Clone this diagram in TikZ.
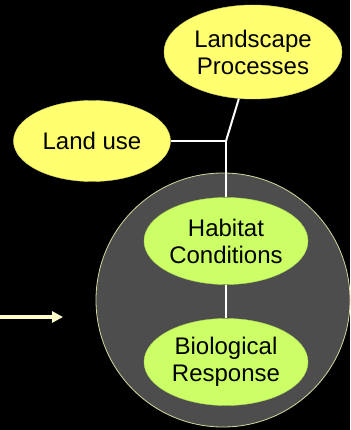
\documentclass[tikz,border=0pt]{standalone}
\usepackage{fontspec}
\setmainfont{Liberation Sans}
\usetikzlibrary{shapes.geometric, arrows.meta}
\definecolor{fondoGris}{HTML}{4D4D4D}
\definecolor{bordeCrema}{HTML}{D8D8A0}
\definecolor{elipAmarilla}{HTML}{FFFF70}
\definecolor{elipVerde}{HTML}{CCFF66}
\definecolor{flechaCrema}{HTML}{FFFFCC}

\begin{document}
\begin{tikzpicture}[
    x=1pt, y=-1pt,
    burbuja/.style={ellipse, inner sep=0pt, align=center, text=black,
        font=\fontsize{24}{27}\selectfont},
    amarilla/.style={burbuja, fill=elipAmarilla, draw=elipAmarilla!85!black, line width=0.4pt,
        minimum width=178pt, minimum height=94pt},
    verde/.style={burbuja, fill=elipVerde, draw=elipVerde!85!black, line width=0.4pt,
        minimum width=164pt, minimum height=87pt},
    enlace/.style={white, line width=2pt}
]

    % --- FONDO ---
    \fill[black] (0,0) rectangle (350,430);
    \useasboundingbox (0,0) rectangle (350,430);

    % --- CIRCULO GRANDE ---
    \draw[fill=fondoGris, draw=bordeCrema, line width=0.8pt] (223,300) circle (127);

    % --- NODOS ---
    \node[amarilla] (lp) at (253,52) {Landscape\\Processes};
    \node[amarilla, minimum width=157pt, minimum height=81pt] (lu) at (92,141) {Land use};
    \node[verde] (hc) at (226,241) {Habitat\\Conditions};
    \node[verde] (br) at (226,362) {Biological\\Response};
    \coordinate (cruce) at (226,141);

    % --- ENLACES ---
    \draw[enlace] (lp) -- (cruce);
    \draw[enlace] (lu) -- (cruce);
    \draw[enlace] (cruce) -- (hc);
    \draw[enlace] (hc) -- (br);

    % --- FLECHA ---
    \coordinate (inicio) at (0,317);
    \coordinate (punta) at (63,317);
    \draw[flechaCrema, line width=4pt, -{Triangle[length=11pt, width=11pt]}] (inicio) -- (punta);

\end{tikzpicture}
\end{document}
